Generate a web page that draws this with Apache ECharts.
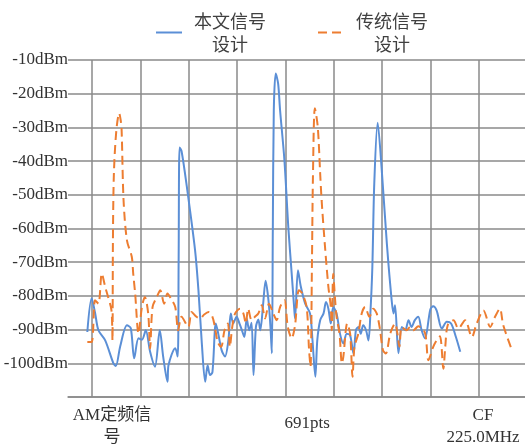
<!DOCTYPE html>
<html>
<head>
<meta charset="utf-8">
<title>信号频谱对比</title>
<script src="https://cdn.jsdelivr.net/npm/echarts@6/dist/echarts.min.js"></script>
<style>
html, body { margin: 0; padding: 0; background: #fff; }
#main { width: 525px; height: 446px; }
</style>
</head>
<body>
<div id="main"></div>
<script>
// 图例名称
var seriesNames = ['本文信号\n设计', '传统信号\n设计'];

// 横轴标注（位置 + 文字）
var xLabelValues = [9.1, 49.5, 85.9];
var xLabelTexts = ['AM定频信\n号', '691pts', 'CF\n225.0MHz'];
// 竖向网格线位置
var xGridValues = [5, 15, 25, 35, 45, 55, 65, 75, 85];

// 纵轴范围 dBm
var yMin = -110, yMax = -10, yStep = 10;

// 本文信号设计 [x, dBm]
var newDesign = [
  [4.0,-90.7],[4.9,-80.7],[5.6,-85.0],[6.3,-90.2],[7.7,-93.2],[9.4,-100.0],[9.9,-100.8],
  [10.8,-95.0],[12.2,-88.7],[13.0,-89.6],[13.7,-98.5],[14.6,-92.6],[15.3,-93.0],[16.1,-90.2],
  [17.0,-96.6],[18.0,-101.0],[19.0,-90.2],[19.7,-98.0],[20.6,-105.5],[20.8,-100.6],[22.2,-95.5],
  [22.7,-98.0],[22.9,-70.0],[23.1,-36.0],[23.5,-37.0],[24.6,-47.6],[26.3,-66.4],[27.0,-78.3],
  [27.7,-94.0],[28.4,-105.5],[28.9,-100.6],[29.4,-103.5],[29.9,-102.6],[30.6,-88.2],[31.1,-91.2],
  [31.8,-96.1],[32.5,-98.0],[33.2,-93.2],[33.7,-85.2],[34.2,-88.2],[34.9,-86.2],[35.5,-88.2],
  [36.0,-90.2],[36.5,-92.2],[37.0,-86.7],[37.5,-90.2],[38.0,-88.0],[38.4,-103.5],[38.9,-89.2],
  [39.4,-87.0],[39.8,-90.2],[40.4,-82.3],[40.9,-75.5],[41.5,-81.3],[41.9,-89.0],[42.2,-97.0],
  [42.4,-60.0],[42.6,-25.0],[43.0,-14.0],[43.5,-17.0],[43.9,-24.9],[44.8,-39.7],[45.6,-59.5],
  [46.3,-73.3],[46.9,-85.2],[47.0,-86.7],[47.6,-72.4],[48.2,-77.3],[49.1,-82.3],[50.1,-85.2],
  [50.6,-93.0],[51.2,-104.0],[51.6,-93.2],[52.2,-87.2],[52.9,-85.2],[53.4,-81.8],[53.9,-83.8],
  [54.4,-88.2],[54.9,-83.3],[55.6,-85.2],[56.3,-91.2],[57.0,-94.1],[57.7,-91.2],[58.4,-91.7],
  [59.1,-97.1],[59.6,-90.2],[60.1,-89.2],[60.6,-91.2],[61.1,-88.7],[61.7,-90.2],[62.2,-93.2],
  [62.6,-85.0],[63.0,-71.4],[63.4,-46.6],[64.1,-28.6],[64.9,-41.7],[66.0,-64.4],[67.0,-81.3],
  [67.4,-85.2],[67.7,-82.8],[68.4,-97.0],[69.1,-89.2],[69.8,-90.2],[70.5,-87.2],[71.1,-89.2],
  [71.8,-87.2],[72.5,-86.2],[73.2,-90.2],[73.9,-92.6],[75.0,-84.0],[75.6,-83.1],[76.3,-84.3],
  [77.4,-89.7],[78.4,-87.7],[79.3,-88.2],[80.3,-92.2],[81.2,-96.6]
];

// 传统信号设计 [x, dBm]
var oldDesign = [
  [4.0,-93.7],[4.9,-93.7],[5.6,-81.3],[6.3,-82.3],[7.0,-73.4],[7.7,-77.3],[8.3,-80.3],[9.0,-84.3],
  [9.2,-93.2],[9.3,-63.5],[9.5,-43.7],[10.0,-31.0],[10.6,-25.8],[10.9,-27.8],[11.1,-30.8],
  [11.5,-51.6],[12.2,-63.5],[13.2,-68.4],[13.5,-73.4],[13.9,-79.3],[14.6,-91.2],[15.3,-83.3],
  [15.9,-80.3],[16.6,-85.2],[17.0,-95.6],[17.5,-83.3],[18.4,-80.3],[19.1,-78.3],[19.9,-82.3],
  [20.6,-79.3],[21.3,-80.8],[22.2,-83.3],[22.8,-90.2],[23.5,-86.2],[24.9,-89.2],[25.6,-84.8],
  [26.6,-86.2],[27.3,-86.7],[28.2,-85.5],[29.1,-84.8],[29.9,-86.2],[30.4,-89.2],[31.0,-93.7],
  [31.7,-95.1],[32.4,-90.2],[33.1,-88.2],[33.5,-95.1],[34.0,-89.2],[34.6,-85.2],[35.6,-83.8],
  [36.3,-85.2],[36.8,-88.2],[37.3,-83.8],[38.0,-87.2],[38.7,-86.2],[39.4,-85.2],[40.1,-82.8],
  [40.8,-86.7],[41.6,-82.3],[42.5,-85.2],[43.2,-87.2],[43.9,-83.3],[44.8,-81.3],[45.5,-89.2],
  [46.3,-92.6],[47.0,-88.7],[47.8,-78.3],[48.5,-79.3],[49.4,-83.3],[49.9,-96.0],[50.2,-101.0],
  [50.5,-70.0],[50.7,-45.0],[51.1,-24.3],[51.7,-29.8],[52.2,-43.7],[52.5,-51.6],[53.2,-65.4],
  [53.9,-77.3],[54.4,-83.3],[54.6,-90.2],[54.9,-73.4],[55.3,-81.3],[55.6,-86.2],[56.2,-91.2],
  [56.7,-100.0],[57.0,-98.0],[57.8,-88.2],[58.4,-91.2],[58.9,-104.0],[59.3,-95.1],[60.1,-91.2],
  [60.8,-85.2],[61.5,-83.3],[62.4,-86.2],[63.2,-83.8],[63.9,-85.2],[64.5,-89.2],[65.2,-96.1],
  [65.8,-97.1],[66.7,-91.2],[67.7,-88.2],[68.2,-91.2],[68.6,-95.1],[69.1,-89.2],[70.1,-90.2],
  [70.8,-89.2],[71.5,-90.2],[72.5,-89.0],[73.9,-91.0],[74.6,-99.1],[75.6,-95.1],[76.3,-93.2],
  [77.0,-92.0],[77.7,-101.6],[78.1,-95.0],[78.6,-88.7],[79.8,-87.2],[80.8,-89.7],[82.2,-87.2],
  [83.6,-92.2],[84.6,-88.2],[86.0,-84.3],[87.4,-89.2],[88.4,-86.2],[89.4,-83.8],[90.1,-88.7],
  [91.9,-96.1]
];

var serifFont = '"Liberation Serif", "Noto Sans CJK SC", serif';
var gridColor = '#8a8a8a';

var chart = echarts.init(document.getElementById('main'));

var option = {
  animation: false,
  textStyle: { fontFamily: serifFont },
  legend: {
    top: 7,
    left: 150,
    itemWidth: 26,
    itemHeight: 14,
    itemGap: 44,
    data: seriesNames,
    // 图例只要线，不要圆点
    itemStyle: { opacity: 0 },
    // 两行文字居中
    formatter: function (name) {
      return name.split('\n').map(function (s) { return '{a|' + s + '}'; }).join('\n');
    },
    textStyle: {
      rich: {
        a: {
          width: 86,
          align: 'center',
          fontSize: 18,
          lineHeight: 23,
          color: '#404040',
          fontFamily: '"Noto Sans CJK SC", sans-serif'
        }
      }
    }
  },
  grid: { left: 68, right: 0, top: 60, bottom: 49, outerBoundsMode: 'none' },
  xAxis: {
    type: 'value',
    min: 0,
    max: 94.6,
    axisLine: { show: true, lineStyle: { color: gridColor, width: 1.5 } },
    axisTick: { show: false, customValues: xGridValues },
    splitLine: { show: true, lineStyle: { color: gridColor, width: 1.5 } },
    axisLabel: {
      customValues: xLabelValues,
      margin: 8,
      fontSize: 17,
      color: '#333',
      lineHeight: 22,
      formatter: function (v) {
        var i = xLabelValues.indexOf(v);
        if (i < 0) return '';
        if (i === 1) return '{m|' + xLabelTexts[i] + '}';
        return xLabelTexts[i];
      },
      rich: {
        m: { padding: [16, 0, 0, 0], fontSize: 17, color: '#333', fontFamily: serifFont }
      }
    }
  },
  yAxis: {
    type: 'value',
    min: yMin,
    max: yMax,
    interval: yStep,
    axisLine: { show: false },
    axisTick: { show: false },
    splitLine: { show: true, lineStyle: { color: gridColor, width: 1.5 } },
    axisLabel: {
      margin: 0,
      fontSize: 17,
      color: '#333',
      formatter: function (v) {
        return v === yMin ? '' : v + 'dBm';
      }
    }
  },
  series: [
    {
      name: seriesNames[0],
      type: 'line',
      data: newDesign,
      smooth: 0.3,
      symbol: 'none',
      lineStyle: { color: '#5b8fd6', width: 2 },
      itemStyle: { color: '#5b8fd6' }
    },
    {
      name: seriesNames[1],
      type: 'line',
      data: oldDesign,
      smooth: 0.3,
      symbol: 'none',
      lineStyle: { color: '#ed7d31', width: 2, type: [9, 5] },
      itemStyle: { color: '#ed7d31' }
    }
  ]
};

chart.setOption(option);
</script>
</body>
</html>
